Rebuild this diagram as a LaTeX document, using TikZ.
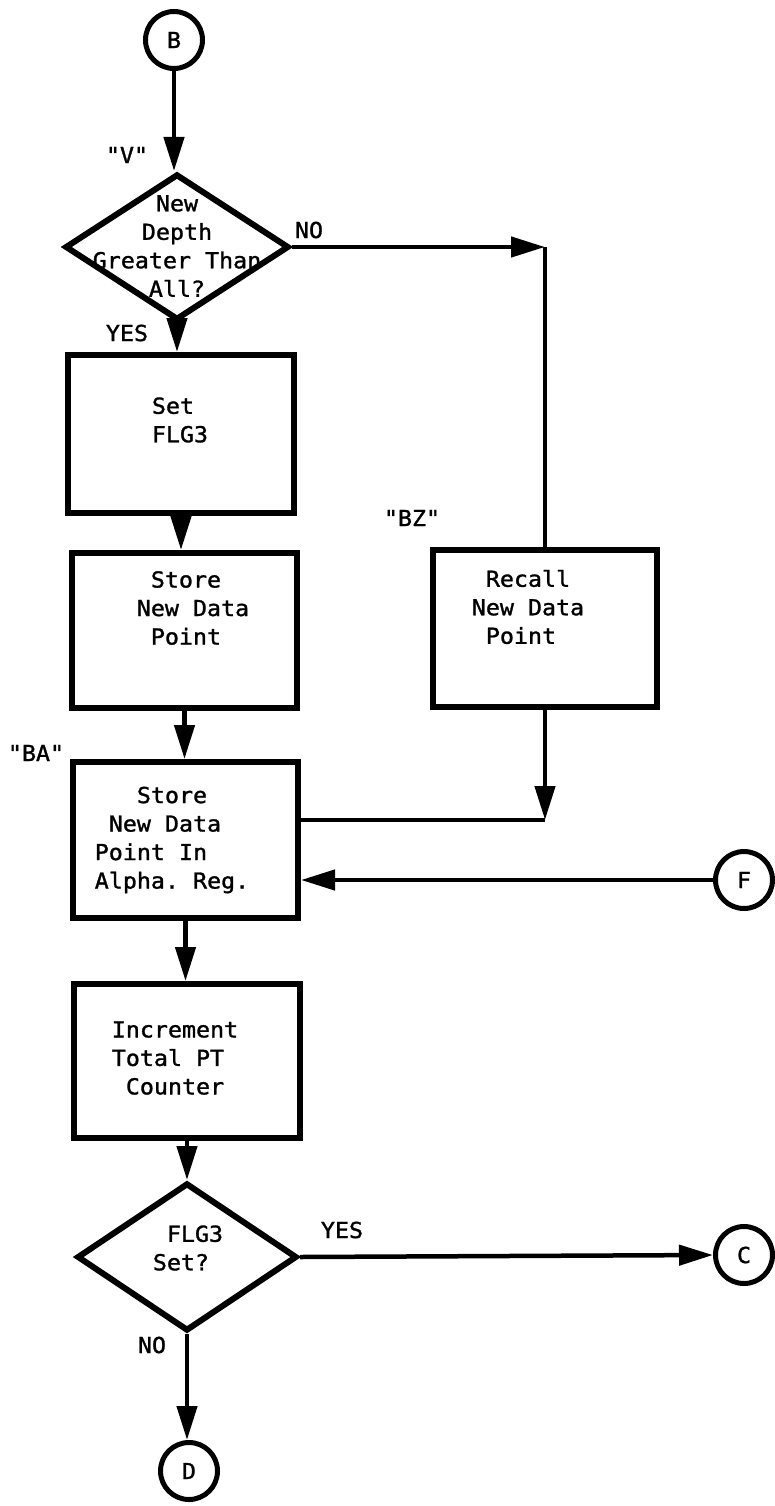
\documentclass[tikz,border=0pt]{standalone}
\usepackage{fontspec}
\setmonofont[FakeStretch=1.06,FakeBold=1.3]{DejaVu Sans Mono}
\usetikzlibrary{shapes.geometric,arrows.meta}
\begin{document}
\begin{tikzpicture}[x=1pt,y=-1pt,
  every node/.style={font=\ttfamily\fontsize{22}{28.5}\selectfont},
  boxnode/.style={draw,line width=6pt,rectangle,inner sep=0pt},
  decnode/.style={draw,line width=6pt,diamond,inner sep=0pt},
  conn/.style={draw,circle,line width=5pt,minimum size=57pt,inner sep=0pt},
  txt/.style={align=left,inner sep=0pt},
  flow/.style={line width=4.5pt,-{Triangle[length=34pt,width=20pt]}},
  plain/.style={line width=4.5pt}]
\useasboundingbox (0,0) rectangle (775,1506);

% connectors (circles)
\node[conn] (B) at (174,40) {B};
\node[conn] (F) at (744,880) {F};
\node[conn] (C) at (744,1255) {C};
\node[conn] (D) at (189,1471) {D};

% decisions
\node[decnode,minimum width=224pt,minimum height=146pt] (d1) at (177,247) {};
\node[align=center,inner sep=0pt] (d1t) at (177,246) {New\\Depth\\Greater Than\\All?};
\node[decnode,minimum width=220pt,minimum height=148pt] (d2) at (187,1257) {};
\node[txt] (d2t) at (188,1248) {\phantom{x}FLG3\\Set?};

% process boxes
\node[boxnode,minimum width=226pt,minimum height=158pt] (b1) at (181,434) {};
\node[txt] (b1t) at (180,420) {Set\\FLG3};
\node[boxnode,minimum width=225pt,minimum height=155pt] (b2) at (184.5,630.5) {};
\node[txt] (b2t) at (193,608) {\phantom{x}Store\\New Data\\\phantom{x}Point};
\node[boxnode,minimum width=224pt,minimum height=157pt] (rc) at (545,628.5) {};
\node[txt] (rct) at (528,607) {\phantom{x}Recall\\New Data\\\phantom{x}Point};
\node[boxnode,minimum width=225pt,minimum height=156pt] (b3) at (185.5,840) {};
\node[txt] (b3t) at (172,840) {\phantom{xxx}Store\\\phantom{x}New Data\\Point In\\Alpha. Reg.};
\node[boxnode,minimum width=226pt,minimum height=154pt] (b4) at (187,1061) {};
\node[txt] (b4t) at (175,1058) {Increment\\Total PT\\\phantom{x}Counter};

% labels
\node (lv) at (127,155) {"V"};
\node (lyes1) at (127,333) {YES};
\node (lno1) at (309,230) {NO};
\node (lbz) at (412,518) {"BZ"};
\node (lba) at (36,753) {"BA"};
\node (lyes2) at (342,1230) {YES};
\node (lno2) at (152,1345) {NO};

% corner coordinates
\coordinate (c1) at (545,247);
\coordinate (c2) at (545,820);

% flow lines
\draw[flow] (B.south) -- (B.south |- d1.north);
\draw[flow] (d1.south) -- (d1.south |- b1.north);
\draw[flow] (d1.east) -- (c1);
\draw[plain] (c1) -- (rc.north);
\draw[flow] (b1.south) -- (b1.south |- b2.north);
\draw[flow] (b2.south) -- (b2.south |- b3.north);
\draw[flow] (rc.south) -- (c2);
\draw[plain] (c2) -- (b3.east |- c2);
\draw[flow] (F.west) -- (b3.east |- F.west);
\draw[flow] (b3.south) -- (b3.south |- b4.north);
\draw[flow] (b4.south) -- (b4.south |- d2.north);
\draw[flow] (d2.east) -- (C.west);
\draw[flow] (d2.south) -- (d2.south |- D.north);
\end{tikzpicture}
\end{document}
